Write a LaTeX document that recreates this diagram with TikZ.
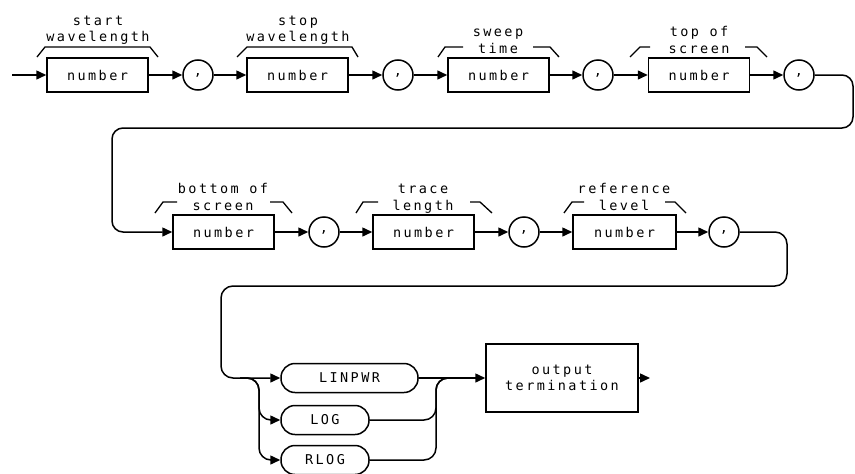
\documentclass[tikz,border=0pt]{standalone}
\usepackage{fontspec}
\newfontfamily\diafont{DejaVu Sans Mono}[LetterSpace=18]
\usetikzlibrary{arrows.meta}
\begin{document}
\begin{tikzpicture}[x=1pt,y=-1pt,
  line width=1.5pt,
  every node/.style={font=\diafont\fontsize{13.5}{16}\selectfont, inner sep=0pt},
  numbox/.style={draw, minimum width=101pt, minimum height=34pt},
  sepc/.style={draw, circle, minimum size=30pt},
  pill/.style={draw, rounded corners=14pt, minimum height=29pt},
  arr/.style={-{Triangle[length=10pt,width=9pt]}},
  brk/.style={line width=1.3pt},
  lbl/.style={anchor=base}
]
\useasboundingbox (0,0) rectangle (855,474);

% row 1
\node[numbox] (b1) at (97.5,75) {number};
\node[sepc] (c1) at (198,75) {,};
\node[numbox] (b2) at (297.5,75) {number};
\node[sepc] (c2) at (398,75) {,};
\node[numbox] (b3) at (498.5,75) {number};
\node[sepc] (c3) at (598,75) {,};
\node[numbox] (b4) at (699,75) {number};
\node[sepc] (c4) at (799,75) {,};

% row 2
\node[numbox] (b5) at (223.5,232) {number};
\node[sepc] (c5) at (324,232) {,};
\node[numbox] (b6) at (423.5,232) {number};
\node[sepc] (c6) at (524,232) {,};
\node[numbox, minimum width=103pt] (b7) at (624.5,232) {number};
\node[sepc] (c7) at (724,232) {,};

% row 3
\node[pill, minimum width=137pt] (lin) at (349.5,378) {LINPWR};
\node[pill, minimum width=88pt] (log) at (325,420) {LOG};
\node[pill, minimum width=88pt] (rlog) at (325,460) {RLOG};
\node[draw, minimum width=152pt, minimum height=68pt, align=center] (out) at (562,378) {output\\termination};

% labels
\node[lbl] (l1a) at (98,25) {start};
\node[lbl] (l1b) at (98,41) {wavelength};
\node[lbl] (l2a) at (298,25) {stop};
\node[lbl] (l2b) at (298,41) {wavelength};
\node[lbl] (l3a) at (498,36) {sweep};
\node[lbl] (l3b) at (498,53) {time};
\node[lbl] (l4a) at (699,36) {top of};
\node[lbl] (l4b) at (699,53) {screen};
\node[lbl] (l5a) at (223,193) {bottom of};
\node[lbl] (l5b) at (223,210) {screen};
\node[lbl] (l6a) at (423,193) {trace};
\node[lbl] (l6b) at (423,210) {length};
\node[lbl] (l7a) at (624,193) {reference};
\node[lbl] (l7b) at (624,210) {level};

% brackets
\draw[brk] (37,57) -- (45,47) -- (150,47) -- (158,57);
\draw[brk] (237,57) -- (247,47) -- (352,47) -- (358,57);
\draw[brk] (438,57) -- (445,47) -- (463,47);
\draw[brk] (533,47) -- (550,47) -- (559,57);
\draw[brk] (630,57) -- (640,47) -- (650,47);
\draw[brk] (745,47) -- (757,47) -- (767,57);
\draw[brk] (155,213) -- (163,202) -- (177,202);
\draw[brk] (270,202) -- (283,202) -- (292,213);
\draw[brk] (356,213) -- (363,202) -- (378,202);
\draw[brk] (470,202) -- (480,202) -- (492,213);
\draw[brk] (564,213) -- (572,202) -- (584,202);
\draw[brk] (665,202) -- (675,202) -- (686,213);

% connectors
\coordinate (s) at (12,75);
\draw[arr] (s) -- (b1);
\draw[arr] (b1) -- (c1);
\draw[arr] (c1) -- (b2);
\draw[arr] (b2) -- (c2);
\draw[arr] (c2) -- (b3);
\draw[arr] (b3) -- (c3);
\draw[arr] (c3) -- (b4);
\draw[arr] (b4) -- (c4);
\draw[arr, rounded corners=11pt] (c4.east) -- (853,75) -- (853,128) -- (112,128) -- (112,232) -- (b5.west);
\draw[arr] (b5) -- (c5);
\draw[arr] (c5) -- (b6);
\draw[arr] (b6) -- (c6);
\draw[arr] (c6) -- (b7);
\draw[arr] (b7) -- (c7);
\draw[arr, rounded corners=12pt] (c7.east) -- (787,232) -- (787,286) -- (221,286) -- (221,378) -- (lin.west);
\coordinate (bj) at (240,378);
\draw[arr, rounded corners=12pt] (bj) -| (259,420) -- (log.west);
\draw[arr, rounded corners=12pt] (bj) -| (259,460) -- (rlog.west);
\coordinate (mj) at (452,378);
\draw[rounded corners=12pt] (log.east) -| (436,378) -- (mj);
\draw[rounded corners=12pt] (rlog.east) -| (436,378) -- (mj);
\draw[arr] (lin.east) -- (out.west);
\coordinate (e) at (650,378);
\draw[arr] (out.east) -- (e);
\end{tikzpicture}
\end{document}
